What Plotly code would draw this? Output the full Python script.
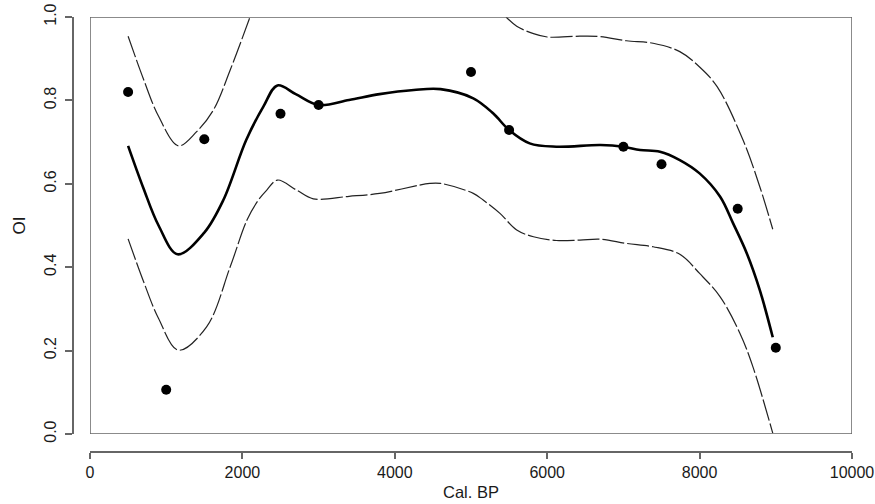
import plotly.graph_objects as go

# Observed data points
obs_x = [500, 1000, 1500, 2500, 3000, 5000, 5500, 7000, 7500, 8500, 9000]
obs_y = [0.820, 0.106, 0.707, 0.768, 0.789, 0.868, 0.729, 0.689, 0.647, 0.540, 0.207]

# Fitted smooth curve
fit_x = [500, 700, 900, 1150, 1500, 1750, 2050, 2275, 2460, 2700, 3000, 3400, 3800,
         4250, 4600, 5030, 5290, 5500, 5770, 6120, 6700, 7000, 7220, 7480, 7740,
         8000, 8270, 8440, 8620, 8790, 8960]
fit_y = [0.691, 0.590, 0.500, 0.431, 0.483, 0.561, 0.705, 0.785, 0.836, 0.815, 0.789,
         0.801, 0.815, 0.825, 0.827, 0.805, 0.769, 0.729, 0.697, 0.689, 0.693, 0.689,
         0.681, 0.677, 0.657, 0.625, 0.569, 0.505, 0.433, 0.345, 0.232]

# Upper confidence band (leaves the plot area between ~2100 and ~5460)
upper_x = [500, 700, 900, 1160, 1400, 1620, 1840, 2100, None,
           5460, 5600, 5820, 6000, 6430, 6700, 7040, 7390, 7740, 8000, 8230,
           8570, 8790, 8960]
upper_y = [0.954, 0.852, 0.762, 0.691, 0.725, 0.777, 0.873, 1.0, None,
           1.0, 0.978, 0.960, 0.952, 0.954, 0.953, 0.943, 0.937, 0.917, 0.880, 0.833,
           0.705, 0.593, 0.491]

# Lower confidence band
lower_x = [500, 700, 900, 1160, 1530, 1840, 2060, 2210, 2320, 2460, 2710, 2930, 3400,
           3800, 4460, 4600, 5030, 5160, 5380, 5600, 5820, 6120, 6430, 6700, 7040,
           7390, 7740, 8000, 8270, 8530, 8700, 8960]
lower_y = [0.468, 0.367, 0.277, 0.201, 0.257, 0.401, 0.513, 0.561, 0.585, 0.609, 0.585,
           0.564, 0.570, 0.577, 0.601, 0.601, 0.577, 0.561, 0.529, 0.489, 0.473, 0.464,
           0.465, 0.467, 0.457, 0.449, 0.431, 0.385, 0.329, 0.241, 0.161, 0.002]

x_ticks = [0, 2000, 4000, 6000, 8000, 10000]
x_ticktext = ["0", "2000", "4000", "6000", "8000", "10000"]
y_ticks = [0.0, 0.2, 0.4, 0.6, 0.8, 1.0]
y_ticktext = ["0.0", "0.2", "0.4", "0.6", "0.8", "1.0"]

FONT = "Liberation Sans, Arial, Helvetica, sans-serif"
AXC = "#666666"

fig = go.Figure()

dash = "22px,3px"
fig.add_trace(go.Scatter(x=upper_x, y=upper_y, mode="lines",
                         line=dict(color="#222222", width=1.2, dash=dash, shape="spline", smoothing=1.0),
                         connectgaps=False, showlegend=False, hoverinfo="skip"))
fig.add_trace(go.Scatter(x=lower_x, y=lower_y, mode="lines",
                         line=dict(color="#222222", width=1.2, dash=dash, shape="spline", smoothing=1.0),
                         showlegend=False, hoverinfo="skip"))
fig.add_trace(go.Scatter(x=fit_x, y=fit_y, mode="lines",
                         line=dict(color="black", width=2.6, shape="spline", smoothing=1.0),
                         showlegend=False))
fig.add_trace(go.Scatter(x=obs_x, y=obs_y, mode="markers",
                         marker=dict(color="black", size=10),
                         showlegend=False))

# plot box
fig.add_shape(type="rect", xref="x", yref="y", x0=0, x1=10000, y0=0, y1=1,
              line=dict(color=AXC, width=1.5), layer="above")

W, H = 875, 504
ml, mr, mt, mb = 73, 23, 17, 52
pw = W - ml - mr
ph = H - mt - mb

fig.update_layout(
    width=W, height=H,
    margin=dict(l=ml, r=mr, t=mt, b=mb, autoexpand=False),
    paper_bgcolor="white", plot_bgcolor="white",
    font=dict(family=FONT, size=16, color="#1a1a1a"),
    xaxis=dict(domain=[(90 - ml) / pw, 1], range=[0, 10000], anchor="free", position=0,
               showline=True, linecolor=AXC, linewidth=1.5,
               ticks="outside", ticklen=6, tickwidth=1.5, tickcolor=AXC,
               tickvals=x_ticks, ticktext=x_ticktext,
               showgrid=False, zeroline=False, automargin=False,
               title=dict(text="Cal. BP", font=dict(size=16.5), standoff=5)),
    yaxis=dict(domain=[(452 - 434) / ph, 1], range=[0, 1], anchor="free", position=0,
               showline=True, linecolor=AXC, linewidth=1.5,
               ticks="outside", ticklen=7, tickwidth=1.5, tickcolor=AXC,
               tickvals=y_ticks, ticktext=y_ticktext, tickangle=-90,
               ticklabelstandoff=3,
               showgrid=False, zeroline=False, automargin=False,
               title=dict(text="OI", font=dict(size=17), standoff=11)),
)

fig.write_html("out.html", config={"displayModeBar": False},
               post_script="document.body.style.margin='0';document.body.style.padding='0';")
